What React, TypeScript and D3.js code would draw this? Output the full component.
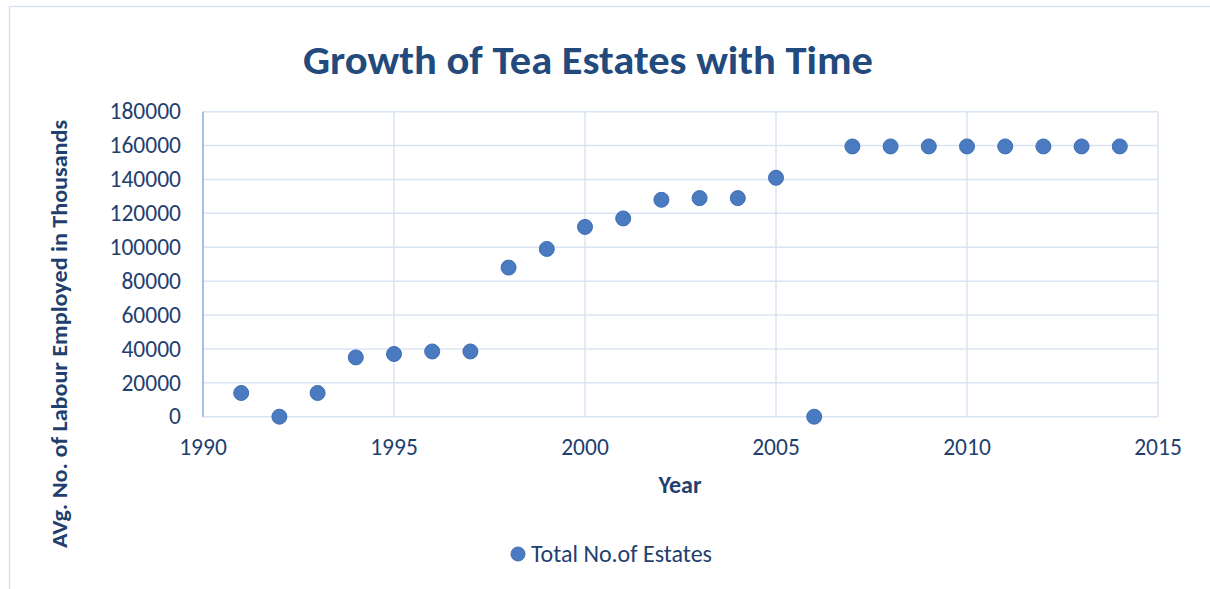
import React from "react";
import * as d3 from "d3";

const years = [1991,1992,1993,1994,1995,1996,1997,1998,1999,2000,2001,2002,2003,2004,2005,2006,2007,2008,2009,2010,2011,2012,2013,2014];
const estates = [14000,0,14000,35000,37000,38500,38500,88000,99000,112000,117000,128000,129000,129000,141000,0,159500,159500,159500,159500,159500,159500,159500,159500];
const xTicks = [1990,1995,2000,2005,2010,2015];
const yTicks = [0,20000,40000,60000,80000,100000,120000,140000,160000,180000];

const W = 1210, H = 589;
const left = 203, right = 1158, top = 111.7, bottom = 416.7;
const textColor = "#1F3F6E";
const grid = "#D9E4F3";
const font = "Carlito, Calibri, 'Open Sans', 'Noto Sans', sans-serif";

export default function App() {
  const x = d3.scaleLinear().domain([1990, 2015]).range([left, right]);
  const y = d3.scaleLinear().domain([0, 180000]).range([bottom, top]);
  return (
    <svg width={W} height={H} style={{ position: "absolute", left: 0, top: 0, background: "#fff" }} fontFamily={font}>
      <rect x={9.5} y={6.5} width={W + 10} height={H + 10} fill="#fff" stroke="#D5E1F1" strokeWidth={1.5} />
      <text x={588} y={74} textAnchor="middle" fontSize={40} fontWeight="bold" fill="#234A7C" textLength={570} lengthAdjust="spacingAndGlyphs">Growth of Tea Estates with Time</text>
      {yTicks.map(t => (
        <line key={"gy" + t} x1={left} x2={right} y1={y(t)} y2={y(t)} stroke={grid} strokeWidth={1.5} />
      ))}
      {xTicks.map(t => (
        <line key={"gx" + t} x1={x(t)} x2={x(t)} y1={top} y2={bottom} stroke={grid} strokeWidth={1.5} />
      ))}
      <line x1={left} x2={left} y1={top} y2={bottom} stroke="#8FB3E0" strokeWidth={1.5} />
      {yTicks.map(t => (
        <text key={"ty" + t} x={181} y={y(t)} dy="0.33em" textAnchor="end" fontSize={23.5} fill={textColor}>{t}</text>
      ))}
      {xTicks.map(t => (
        <text key={"tx" + t} x={x(t)} y={455} textAnchor="middle" fontSize={23.5} fill={textColor}>{t}</text>
      ))}
      <text x={680} y={493} textAnchor="middle" fontSize={24} fontWeight="bold" fill={textColor}>Year</text>
      <text transform={`translate(67,334) rotate(-90)`} textAnchor="middle" fontSize={23} fontWeight="bold" fill={textColor} textLength={428} lengthAdjust="spacingAndGlyphs">AVg. No. of Labour Employed in Thousands</text>
      {years.map((yr, i) => (
        <circle key={yr} cx={x(yr)} cy={y(estates[i])} r={7.5} fill="#4A7BC1" stroke="#3E6DB2" strokeWidth={1} />
      ))}
      <circle cx={518} cy={554} r={7} fill="#4A7BC1" stroke="#3E6DB2" strokeWidth={1} />
      <text x={531} y={562} fontSize={24} fill={textColor}>Total No.of Estates</text>
    </svg>
  );
}
